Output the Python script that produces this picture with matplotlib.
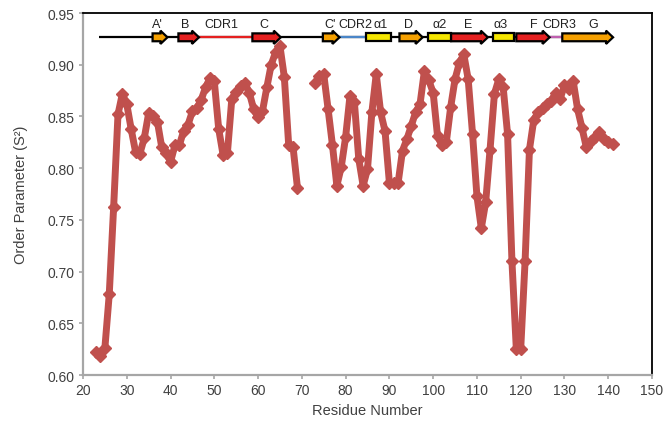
import numpy as np
import matplotlib
matplotlib.use("Agg")
import matplotlib.pyplot as plt
from matplotlib.patches import Polygon, Rectangle

plt.rcParams["font.family"] = ["Liberation Sans", "DejaVu Sans"]

# Order parameters per residue (two assigned stretches, gap in between)
res_a = list(range(23, 70))
s2_a = [0.622, 0.618, 0.626, 0.678, 0.762, 0.852, 0.872, 0.862, 0.838, 0.816,
        0.814, 0.829, 0.853, 0.850, 0.845, 0.820, 0.815, 0.806, 0.822, 0.822,
        0.836, 0.842, 0.855, 0.858, 0.866, 0.878, 0.887, 0.884, 0.838, 0.813,
        0.815, 0.867, 0.874, 0.879, 0.882, 0.873, 0.857, 0.849, 0.855, 0.878,
        0.900, 0.912, 0.918, 0.888, 0.822, 0.820, 0.781]

res_b = list(range(73, 142))
s2_b = [0.882, 0.889, 0.891, 0.857, 0.822, 0.783, 0.801, 0.830, 0.870, 0.864,
        0.809, 0.783, 0.799, 0.854, 0.891, 0.854, 0.836, 0.786, 0.786, 0.786,
        0.817, 0.828, 0.841, 0.854, 0.862, 0.894, 0.885, 0.873, 0.831, 0.822,
        0.825, 0.859, 0.886, 0.902, 0.910, 0.886, 0.833, 0.773, 0.742, 0.767,
        0.818, 0.872, 0.886, 0.878, 0.833, 0.710, 0.625, 0.625, 0.710, 0.818,
        0.847, 0.854, 0.858, 0.862, 0.865, 0.873, 0.867, 0.880, 0.877, 0.884,
        0.857, 0.839, 0.820, 0.826, 0.830, 0.835, 0.828, 0.825, 0.823]

# secondary structure: (label, label residue, kind, start, end, colour)
ss_start, ss_end = 23.7, 141.1
ss_elements = [
    ("A'", 37.0, "arrow", 35.9, 39.3, "#f5a000"),
    ("B", 43.3, "arrow", 41.8, 46.5, "#e52020"),
    ("CDR1", 51.7, "line", 46.5, 58.7, "#e52020"),
    ("C", 61.4, "arrow", 58.7, 65.2, "#e52020"),
    ("C'", 76.5, "arrow", 74.8, 78.6, "#f5a000"),
    ("CDR2", 82.2, "line", 78.6, 84.7, "#4a86c8"),
    ("α1", 88.1, "box", 84.7, 90.4, "#f5e600"),
    ("D", 94.4, "arrow", 92.3, 97.6, "#f5a000"),
    ("α2", 101.5, "box", 98.8, 104.1, "#f5e600"),
    ("E", 107.9, "arrow", 104.1, 112.5, "#e52020"),
    ("α3", 115.4, "box", 113.7, 118.4, "#f5e600"),
    ("F", 123.0, "arrow", 119.0, 126.6, "#e52020"),
    ("CDR3", 128.9, "line", 126.6, 129.5, "#c060b0"),
    ("G", 136.5, "arrow", 129.5, 141.1, "#f5a000"),
]

fig = plt.figure(figsize=(6.66, 4.27), dpi=100)
ax = fig.add_axes([0.1246, 0.1194, 0.8544, 0.8478])

res = res_a + [np.nan] + res_b
s2 = s2_a + [np.nan] + s2_b
ax.plot(res, s2, color="#c0504d", lw=5, marker="D", ms=6,
        mec="#c0504d", mfc="#c0504d", zorder=3)

ax.set_xlim(20, 150)
ax.set_ylim(0.60, 0.95)
ax.set_xticks(np.arange(20, 151, 10))
ax.set_yticks(np.arange(0.60, 0.951, 0.05))
ax.set_yticklabels([f"{v:.2f}" for v in np.arange(0.60, 0.951, 0.05)])

grey = "#a6a6a6"
for side in ("left", "bottom"):
    ax.spines[side].set_color(grey)
    ax.spines[side].set_linewidth(1.6)
for side in ("top", "right"):
    ax.spines[side].set_color("black")
    ax.spines[side].set_linewidth(1.3)
ax.tick_params(axis="both", direction="out", length=3, width=1.2, color=grey,
               labelsize=10, labelcolor="#404040", pad=3)
ax.tick_params(top=False, right=False)
ax.set_xlabel("Residue Number", fontsize=10.5, color="#404040", labelpad=4)
ax.set_ylabel("Order Parameter (S²)", fontsize=10.5, color="#404040", labelpad=14)

# secondary structure track along the top
y0 = 0.9265
h_body = 0.0038
h_head = 0.0064
head_len = 1.6
ax.plot([ss_start, ss_end], [y0, y0], color="black", lw=1.6, zorder=4,
        solid_capstyle="butt")
for name, lx, kind, a, b, col in ss_elements:
    if kind == "line":
        ax.plot([a, b], [y0, y0], color=col, lw=1.6, zorder=5,
                solid_capstyle="butt")
    elif kind == "box":
        ax.add_patch(Rectangle((a, y0 - h_body), b - a, 2 * h_body,
                               facecolor=col, edgecolor="black", lw=1.6,
                               zorder=6))
    else:
        pts = [(a, y0 - h_body), (b - head_len, y0 - h_body),
               (b - head_len, y0 - h_head), (b, y0),
               (b - head_len, y0 + h_head), (b - head_len, y0 + h_body),
               (a, y0 + h_body)]
        ax.add_patch(Polygon(pts, closed=True, facecolor=col,
                             edgecolor="black", lw=1.6, joinstyle="miter",
                             zorder=6))
    ax.text(lx, 0.9395, name, ha="center", va="center",
            fontsize=9, color="#202020", zorder=7)

fig.savefig("out.png", dpi=100)
